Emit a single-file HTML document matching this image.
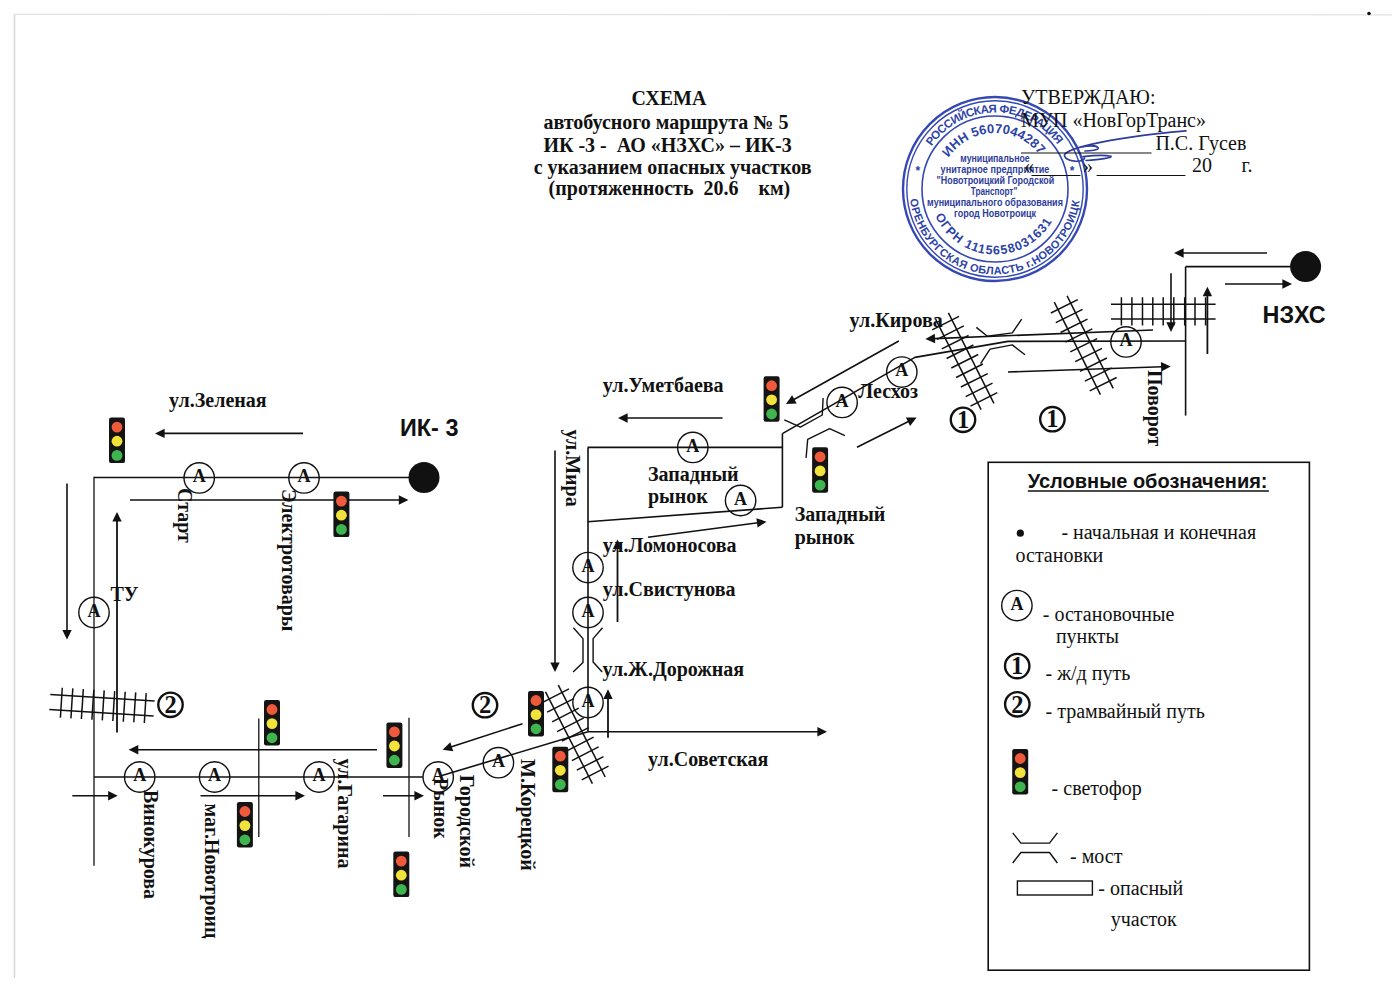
<!DOCTYPE html>
<html><head><meta charset="utf-8"><style>
html,body{margin:0;padding:0;background:#fff;}
body{width:1400px;height:989px;overflow:hidden;position:relative;}
svg{position:absolute;left:0;top:0;}
text{white-space:pre;}
.b{font-family:"Liberation Serif",serif;font-weight:bold;font-size:20px;fill:#111;}
.r{font-family:"Liberation Serif",serif;font-size:20px;fill:#111;}
.sb{font-family:"Liberation Sans",sans-serif;font-weight:bold;font-size:23.4px;fill:#111;}
.lt{font-family:"Liberation Sans",sans-serif;font-weight:bold;font-size:20px;fill:#111;}
.sa{font-family:"Liberation Serif",serif;font-weight:bold;font-size:18px;fill:#111;}
.cn{font-family:"Liberation Serif",serif;font-weight:bold;font-size:24.5px;fill:#111;}
.st{font-family:"Liberation Sans",sans-serif;font-weight:bold;fill:#2c43a8;}
</style></head><body>
<svg width="1400" height="989" viewBox="0 0 1400 989">
<g>
<defs>
<path id="p1" d="M931.58,146.22 A76.5,76.5 0 0 1 1058.42,146.22" fill="none"/>
<path id="p2" d="M910.14,199.42 A85.5,85.5 0 0 0 1079.86,199.42" fill="none"/>
<path id="p3" d="M948.57,157.69 A56,56 0 0 1 1040.30,156.08" fill="none"/>
<path id="p4" d="M935.16,215.64 A65.5,65.5 0 0 0 1052.83,219.75" fill="none"/>
</defs>
<circle cx="995" cy="189" r="92" fill="none" stroke="#3548b4" stroke-width="2.4"/>
<circle cx="995" cy="189" r="88.2" fill="none" stroke="#3548b4" stroke-width="1.4"/>
<circle cx="995" cy="189" r="73" fill="none" stroke="#3548b4" stroke-width="1.6"/>
<text class="st" style="font-size:11.5px;font-weight:bold"><textPath href="#p1" textLength="147.5" lengthAdjust="spacing">РОССИЙСКАЯ ФЕДЕРАЦИЯ</textPath></text>
<text class="st" style="font-size:11px;font-weight:bold"><textPath href="#p2" textLength="245.7" lengthAdjust="spacing">ОРЕНБУРГСКАЯ ОБЛАСТЬ г.НОВОТРОИЦК</textPath></text>
<text class="st" style="font-size:13px;font-weight:bold"><textPath href="#p3" textLength="105.5" lengthAdjust="spacing">ИНН 5607044287</textPath></text>
<text class="st" style="font-size:12.5px;font-weight:bold"><textPath href="#p4" textLength="144.3" lengthAdjust="spacing">ОГРН 1115658031631</textPath></text>
<text class="st" x="960.3" y="162.1" style="font-size:10.5px;fill:#2e3c9c" textLength="69.4" lengthAdjust="spacingAndGlyphs">муниципальное</text>
<text class="st" x="940.6" y="173.1" style="font-size:10.5px;fill:#2e3c9c" textLength="108.8" lengthAdjust="spacingAndGlyphs">унитарное предприятие</text>
<text class="st" x="936.5" y="184.1" style="font-size:10.5px;fill:#2e3c9c" textLength="117.7" lengthAdjust="spacingAndGlyphs">"Новотроицкий Городской</text>
<text class="st" x="970.7" y="194.9" style="font-size:10.5px;fill:#2e3c9c" textLength="46.6" lengthAdjust="spacingAndGlyphs">Транспорт"</text>
<text class="st" x="927.1" y="206.3" style="font-size:10.5px;fill:#2e3c9c" textLength="135.8" lengthAdjust="spacingAndGlyphs">муниципального образования</text>
<text class="st" x="954.1" y="216.6" style="font-size:10.5px;fill:#2e3c9c" textLength="81.9" lengthAdjust="spacingAndGlyphs">город Новотроицк</text>
<text class="st" x="917.8" y="175" text-anchor="middle" style="font-size:12px">*</text>
<text class="st" x="1072" y="175" text-anchor="middle" style="font-size:12px">*</text>
<path d="M1186,130.8 C1150,134 1110,140 1091,144.4 C1080,147 1070,150 1066,153 C1062,156 1066,160 1075,161.2 C1082,161.5 1086,159 1084,157 M1080.6,147.1 C1088,145.5 1097,145 1098.2,148 C1099,150 1090,151 1085,151 M1083,156.6 C1092,155.5 1104,154.5 1111,156.3 C1112,158 1100,159.5 1086,160.5" fill="none" stroke="#2e3c9c" stroke-width="1.7" stroke-linecap="round"/>
</g>
<line x1="14.5" y1="14.3" x2="1392.0" y2="14.8" stroke="#e0e0e0" stroke-width="1.2"/>
<line x1="14.5" y1="14.3" x2="14.5" y2="978.0" stroke="#d8d8d8" stroke-width="1.5"/>
<circle cx="1369" cy="13.5" r="1.8" fill="#111"/>
<text x="631.4" y="105.1" class="b">СХЕМА</text>
<text x="543.4" y="128.5" class="b">автобусного маршрута № 5</text>
<text x="543.4" y="151.7" class="b">ИК -3 -  АО «НЗХС» – ИК-3</text>
<text x="533.7" y="173.7" class="b">с указанием опасных участков</text>
<text x="548.6" y="195.1" class="b">(протяженность  20.6    км)</text>
<rect x="109.0" y="417.6" width="16" height="45.5" rx="2.2" fill="#141414"/>
<circle cx="117.0" cy="427.1" r="5.4" fill="#ef5a3c"/>
<circle cx="117.0" cy="441.2" r="5.4" fill="#f2e23c"/>
<circle cx="117.0" cy="455.4" r="5.4" fill="#3fb54f"/>
<line x1="303.0" y1="433.4" x2="163.6" y2="433.4" stroke="#111" stroke-width="1.6"/>
<polygon points="155.0,433.4 164.6,428.7 164.6,438.1" fill="#111"/>
<text x="169.0" y="406.8" class="b">ул.Зеленая</text>
<text x="400.0" y="436.0" class="sb">ИК- 3</text>
<line x1="94.0" y1="477.5" x2="424.0" y2="477.5" stroke="#111" stroke-width="1.6"/>
<circle cx="424" cy="477.5" r="15.5" fill="#111"/>
<line x1="94.0" y1="476.7" x2="94.0" y2="865.7" stroke="#111" stroke-width="1.3"/>
<circle cx="199.2" cy="477.9" r="15.2" fill="none" stroke="#111" stroke-width="1.4"/>
<text x="199.2" y="482.2" class="sa" text-anchor="middle">A</text>
<circle cx="304.0" cy="477.9" r="15.2" fill="none" stroke="#111" stroke-width="1.4"/>
<text x="304.0" y="482.2" class="sa" text-anchor="middle">A</text>
<line x1="130.0" y1="500.0" x2="399.8" y2="500.0" stroke="#111" stroke-width="1.6"/>
<polygon points="408.4,500.0 398.8,504.7 398.8,495.3" fill="#111"/>
<rect x="333.4" y="491.6" width="16" height="45.5" rx="2.2" fill="#141414"/>
<circle cx="341.4" cy="501.1" r="5.4" fill="#ef5a3c"/>
<circle cx="341.4" cy="515.2" r="5.4" fill="#f2e23c"/>
<circle cx="341.4" cy="529.4" r="5.4" fill="#3fb54f"/>
<text transform="translate(177.5,488.0) rotate(90)" class="b">Старт</text>
<text transform="translate(281.5,489.0) rotate(90)" class="b">Электротовары</text>
<line x1="67.0" y1="483.5" x2="67.0" y2="630.9" stroke="#111" stroke-width="1.6"/>
<polygon points="67.0,639.5 62.3,629.9 71.7,629.9" fill="#111"/>
<line x1="117.0" y1="732.5" x2="117.0" y2="520.6" stroke="#111" stroke-width="1.8"/>
<polygon points="117.0,512.0 121.7,521.6 112.3,521.6" fill="#111"/>
<circle cx="94.0" cy="612.5" r="15.2" fill="none" stroke="#111" stroke-width="1.4"/>
<text x="94.0" y="616.8" class="sa" text-anchor="middle">A</text>
<text x="110.5" y="601.3" class="b">ТУ</text>
<line x1="50.3" y1="694.5" x2="154.6" y2="701.1" stroke="#111" stroke-width="1.5"/>
<line x1="49.3" y1="709.5" x2="153.6" y2="716.1" stroke="#111" stroke-width="1.5"/>
<line x1="62.3" y1="687.8" x2="60.4" y2="717.7" stroke="#111" stroke-width="1.5"/>
<line x1="72.8" y1="688.4" x2="70.9" y2="718.4" stroke="#111" stroke-width="1.5"/>
<line x1="83.3" y1="689.1" x2="81.4" y2="719.0" stroke="#111" stroke-width="1.5"/>
<line x1="93.8" y1="689.8" x2="91.9" y2="719.7" stroke="#111" stroke-width="1.5"/>
<line x1="104.2" y1="690.4" x2="102.3" y2="720.4" stroke="#111" stroke-width="1.5"/>
<line x1="114.7" y1="691.1" x2="112.8" y2="721.0" stroke="#111" stroke-width="1.5"/>
<line x1="125.2" y1="691.7" x2="123.3" y2="721.7" stroke="#111" stroke-width="1.5"/>
<line x1="135.7" y1="692.4" x2="133.8" y2="722.3" stroke="#111" stroke-width="1.5"/>
<line x1="146.2" y1="693.1" x2="144.3" y2="723.0" stroke="#111" stroke-width="1.5"/>
<circle cx="170.5" cy="704.8" r="12.2" fill="none" stroke="#111" stroke-width="2.4"/>
<text x="170.5" y="713.0" class="cn" text-anchor="middle">2</text>
<line x1="94.0" y1="777.0" x2="423.0" y2="777.0" stroke="#111" stroke-width="1.6"/>
<line x1="377.0" y1="749.7" x2="137.3" y2="749.7" stroke="#111" stroke-width="1.6"/>
<polygon points="128.7,749.7 138.3,745.0 138.3,754.4" fill="#111"/>
<circle cx="139.7" cy="777.0" r="15.2" fill="none" stroke="#111" stroke-width="1.4"/>
<text x="139.7" y="781.3" class="sa" text-anchor="middle">A</text>
<circle cx="214.6" cy="777.0" r="15.2" fill="none" stroke="#111" stroke-width="1.4"/>
<text x="214.6" y="781.3" class="sa" text-anchor="middle">A</text>
<circle cx="319.0" cy="777.0" r="15.2" fill="none" stroke="#111" stroke-width="1.4"/>
<text x="319.0" y="781.3" class="sa" text-anchor="middle">A</text>
<circle cx="438.2" cy="777.0" r="15.2" fill="none" stroke="#111" stroke-width="1.4"/>
<text x="438.2" y="781.3" class="sa" text-anchor="middle">A</text>
<line x1="72.3" y1="795.8" x2="109.1" y2="795.8" stroke="#111" stroke-width="1.6"/>
<polygon points="117.7,795.8 108.1,800.5 108.1,791.1" fill="#111"/>
<line x1="200.5" y1="795.8" x2="296.4" y2="795.8" stroke="#111" stroke-width="1.6"/>
<polygon points="305.0,795.8 295.4,800.5 295.4,791.1" fill="#111"/>
<line x1="383.0" y1="795.8" x2="415.4" y2="795.8" stroke="#111" stroke-width="1.6"/>
<polygon points="424.0,795.8 414.4,800.5 414.4,791.1" fill="#111"/>
<line x1="258.8" y1="718.4" x2="258.8" y2="836.9" stroke="#111" stroke-width="1.3"/>
<line x1="409.0" y1="717.7" x2="409.0" y2="836.9" stroke="#111" stroke-width="1.3"/>
<rect x="264.0" y="700.0" width="16" height="45.5" rx="2.2" fill="#141414"/>
<circle cx="272.0" cy="709.5" r="5.4" fill="#ef5a3c"/>
<circle cx="272.0" cy="723.6" r="5.4" fill="#f2e23c"/>
<circle cx="272.0" cy="737.8" r="5.4" fill="#3fb54f"/>
<rect x="236.9" y="802.0" width="16" height="45.5" rx="2.2" fill="#141414"/>
<circle cx="244.9" cy="811.5" r="5.4" fill="#ef5a3c"/>
<circle cx="244.9" cy="825.6" r="5.4" fill="#f2e23c"/>
<circle cx="244.9" cy="839.8" r="5.4" fill="#3fb54f"/>
<rect x="386.4" y="722.4" width="16" height="45.5" rx="2.2" fill="#141414"/>
<circle cx="394.4" cy="731.9" r="5.4" fill="#ef5a3c"/>
<circle cx="394.4" cy="746.0" r="5.4" fill="#f2e23c"/>
<circle cx="394.4" cy="760.2" r="5.4" fill="#3fb54f"/>
<rect x="393.3" y="851.6" width="16" height="45.5" rx="2.2" fill="#141414"/>
<circle cx="401.3" cy="861.1" r="5.4" fill="#ef5a3c"/>
<circle cx="401.3" cy="875.2" r="5.4" fill="#f2e23c"/>
<circle cx="401.3" cy="889.4" r="5.4" fill="#3fb54f"/>
<text transform="translate(143.5,790.0) rotate(90)" class="b">Винокурова</text>
<text transform="translate(204.5,803.6) rotate(90)" class="b">маг.Новотроиц</text>
<text transform="translate(338.0,758.5) rotate(90)" class="b">ул.Гагарина</text>
<text transform="translate(434.0,778.0) rotate(90)" class="b">Рынок</text>
<text transform="translate(459.5,774.8) rotate(90)" class="b">Городской</text>
<text transform="translate(520.5,759.0) rotate(90)" class="b">М.Корецкой</text>
<line x1="442.0" y1="775.5" x2="588.0" y2="731.8" stroke="#111" stroke-width="1.6"/>
<line x1="522.5" y1="723.7" x2="450.8" y2="747.0" stroke="#111" stroke-width="1.6"/>
<polygon points="442.6,749.7 450.3,742.3 453.2,751.2" fill="#111"/>
<circle cx="498.4" cy="762.7" r="15.2" fill="none" stroke="#111" stroke-width="1.4"/>
<text x="498.4" y="767.0" class="sa" text-anchor="middle">A</text>
<circle cx="485.0" cy="705.2" r="12.2" fill="none" stroke="#111" stroke-width="2.4"/>
<text x="485.0" y="713.4" class="cn" text-anchor="middle">2</text>
<line x1="558.3" y1="685.2" x2="605.2" y2="777.0" stroke="#111" stroke-width="1.5"/>
<line x1="545.5" y1="691.8" x2="592.4" y2="783.6" stroke="#111" stroke-width="1.5"/>
<line x1="569.0" y1="688.9" x2="542.2" y2="702.6" stroke="#111" stroke-width="1.5"/>
<line x1="573.9" y1="698.6" x2="547.2" y2="712.2" stroke="#111" stroke-width="1.5"/>
<line x1="578.8" y1="708.2" x2="552.1" y2="721.9" stroke="#111" stroke-width="1.5"/>
<line x1="583.8" y1="717.9" x2="557.1" y2="731.6" stroke="#111" stroke-width="1.5"/>
<line x1="588.7" y1="727.6" x2="562.0" y2="741.2" stroke="#111" stroke-width="1.5"/>
<line x1="593.6" y1="737.2" x2="566.9" y2="750.9" stroke="#111" stroke-width="1.5"/>
<line x1="598.6" y1="746.9" x2="571.9" y2="760.6" stroke="#111" stroke-width="1.5"/>
<line x1="603.5" y1="756.6" x2="576.8" y2="770.2" stroke="#111" stroke-width="1.5"/>
<line x1="608.5" y1="766.2" x2="581.7" y2="779.9" stroke="#111" stroke-width="1.5"/>
<rect x="528.0" y="691.0" width="16" height="45.5" rx="2.2" fill="#141414"/>
<circle cx="536.0" cy="700.5" r="5.4" fill="#ef5a3c"/>
<circle cx="536.0" cy="714.6" r="5.4" fill="#f2e23c"/>
<circle cx="536.0" cy="728.8" r="5.4" fill="#3fb54f"/>
<rect x="552.3" y="746.7" width="16" height="45.5" rx="2.2" fill="#141414"/>
<circle cx="560.3" cy="756.2" r="5.4" fill="#ef5a3c"/>
<circle cx="560.3" cy="770.3" r="5.4" fill="#f2e23c"/>
<circle cx="560.3" cy="784.5" r="5.4" fill="#3fb54f"/>
<line x1="588.0" y1="447.4" x2="588.0" y2="731.8" stroke="#111" stroke-width="1.6"/>
<circle cx="588.0" cy="702.5" r="15.2" fill="none" stroke="#111" stroke-width="1.4"/>
<text x="588.0" y="706.8" class="sa" text-anchor="middle">A</text>
<line x1="608.0" y1="737.8" x2="608.0" y2="697.9" stroke="#111" stroke-width="1.8"/>
<polygon points="608.0,689.3 612.7,698.9 603.3,698.9" fill="#111"/>
<line x1="588.0" y1="731.8" x2="818.4" y2="731.8" stroke="#111" stroke-width="1.6"/>
<polygon points="827.0,731.8 817.4,736.5 817.4,727.1" fill="#111"/>
<text x="648.0" y="766.2" class="b">ул.Советская</text>
<text x="602.4" y="675.8" class="b">ул.Ж.Дорожная</text>
<line x1="555.0" y1="450.6" x2="555.0" y2="663.4" stroke="#111" stroke-width="1.6"/>
<polygon points="555.0,672.0 550.3,662.4 559.7,662.4" fill="#111"/>
<polyline points="573.4,627.7 583.0,638.6 583.0,662.5 573.1,672.0" fill="none" stroke="#111" stroke-width="1.4" stroke-linejoin="round"/>
<polyline points="602.5,627.7 593.1,638.6 593.1,662.0 602.2,672.0" fill="none" stroke="#111" stroke-width="1.4" stroke-linejoin="round"/>
<circle cx="588.0" cy="567.6" r="15.2" fill="none" stroke="#111" stroke-width="1.4"/>
<text x="588.0" y="571.9" class="sa" text-anchor="middle">A</text>
<circle cx="588.0" cy="612.5" r="15.2" fill="none" stroke="#111" stroke-width="1.4"/>
<text x="588.0" y="616.8" class="sa" text-anchor="middle">A</text>
<line x1="617.5" y1="622.0" x2="617.5" y2="548.1" stroke="#111" stroke-width="1.8"/>
<polygon points="617.5,539.5 622.2,549.1 612.8,549.1" fill="#111"/>
<text x="602.8" y="596.4" class="b">ул.Свистунова</text>
<text x="602.8" y="551.8" class="b">ул.Ломоносова</text>
<line x1="648.0" y1="537.3" x2="758.0" y2="522.8" stroke="#111" stroke-width="1.6"/>
<polygon points="766.5,521.7 757.6,527.6 756.4,518.3" fill="#111"/>
<line x1="587.6" y1="447.4" x2="782.4" y2="447.4" stroke="#111" stroke-width="1.6"/>
<line x1="587.6" y1="521.8" x2="782.4" y2="507.2" stroke="#111" stroke-width="1.6"/>
<line x1="782.4" y1="433.6" x2="782.4" y2="507.2" stroke="#111" stroke-width="1.6"/>
<circle cx="692.8" cy="447.4" r="15.2" fill="none" stroke="#111" stroke-width="1.4"/>
<text x="692.8" y="451.7" class="sa" text-anchor="middle">A</text>
<circle cx="740.6" cy="500.5" r="15.2" fill="none" stroke="#111" stroke-width="1.4"/>
<text x="740.6" y="504.8" class="sa" text-anchor="middle">A</text>
<text x="648.0" y="480.5" class="b">Западный</text>
<text x="648.0" y="503.2" class="b">рынок</text>
<text transform="translate(566.0,429.5) rotate(90)" class="b">ул.Мира</text>
<text x="602.8" y="391.5" class="b">ул.Уметбаева</text>
<line x1="722.6" y1="418.0" x2="626.6" y2="418.0" stroke="#111" stroke-width="1.6"/>
<polygon points="618.0,418.0 627.6,413.3 627.6,422.7" fill="#111"/>
<rect x="763.6" y="376.2" width="16" height="45.5" rx="2.2" fill="#141414"/>
<circle cx="771.6" cy="385.7" r="5.4" fill="#ef5a3c"/>
<circle cx="771.6" cy="399.8" r="5.4" fill="#f2e23c"/>
<circle cx="771.6" cy="414.0" r="5.4" fill="#3fb54f"/>
<line x1="898.8" y1="341.0" x2="793.5" y2="399.8" stroke="#111" stroke-width="1.6"/>
<polygon points="786.0,404.0 792.1,395.2 796.7,403.4" fill="#111"/>
<polyline points="782.4,433.6 914.9,357.4 1008.0,341.4 1185.6,341.0" fill="none" stroke="#111" stroke-width="1.6" stroke-linejoin="round"/>
<circle cx="842.1" cy="402.4" r="15.2" fill="none" stroke="#111" stroke-width="1.4"/>
<text x="842.1" y="406.7" class="sa" text-anchor="middle">A</text>
<circle cx="901.8" cy="372.1" r="15.2" fill="none" stroke="#111" stroke-width="1.4"/>
<text x="901.8" y="376.4" class="sa" text-anchor="middle">A</text>
<text x="858.3" y="398.2" class="b">Лесхоз</text>
<polyline points="784.3,419.9 800.4,427.1 822.3,415.0 823.1,398.0" fill="none" stroke="#111" stroke-width="1.4" stroke-linejoin="round"/>
<polyline points="806.1,457.9 807.7,439.3 829.6,428.7 844.9,435.7" fill="none" stroke="#111" stroke-width="1.4" stroke-linejoin="round"/>
<rect x="812.1" y="447.3" width="16" height="45.5" rx="2.2" fill="#141414"/>
<circle cx="820.1" cy="456.8" r="5.4" fill="#ef5a3c"/>
<circle cx="820.1" cy="470.9" r="5.4" fill="#f2e23c"/>
<circle cx="820.1" cy="485.1" r="5.4" fill="#3fb54f"/>
<line x1="857.0" y1="447.3" x2="908.9" y2="421.3" stroke="#111" stroke-width="1.6"/>
<polygon points="916.6,417.4 910.1,425.9 905.9,417.5" fill="#111"/>
<text x="794.7" y="520.8" class="b">Западный</text>
<text x="794.7" y="543.8" class="b">рынок</text>
<text x="849.6" y="326.8" class="b">ул.Кирова</text>
<line x1="1153.0" y1="330.0" x2="934.0" y2="338.6" stroke="#111" stroke-width="1.6"/>
<polygon points="925.4,338.9 934.8,333.8 935.2,343.2" fill="#111"/>
<polyline points="976.3,327.4 987.4,336.3 1012.3,332.9 1021.7,319.1" fill="none" stroke="#111" stroke-width="1.4" stroke-linejoin="round"/>
<polyline points="980.6,363.7 990.0,349.1 1012.3,344.9 1025.0,354.8" fill="none" stroke="#111" stroke-width="1.4" stroke-linejoin="round"/>
<line x1="948.4" y1="312.8" x2="993.9" y2="403.3" stroke="#111" stroke-width="1.5"/>
<line x1="935.6" y1="319.2" x2="981.1" y2="409.7" stroke="#111" stroke-width="1.5"/>
<line x1="959.0" y1="316.4" x2="932.2" y2="329.9" stroke="#111" stroke-width="1.5"/>
<line x1="963.8" y1="325.9" x2="937.0" y2="339.4" stroke="#111" stroke-width="1.5"/>
<line x1="968.6" y1="335.5" x2="941.8" y2="348.9" stroke="#111" stroke-width="1.5"/>
<line x1="973.4" y1="345.0" x2="946.6" y2="358.5" stroke="#111" stroke-width="1.5"/>
<line x1="978.2" y1="354.5" x2="951.3" y2="368.0" stroke="#111" stroke-width="1.5"/>
<line x1="982.9" y1="364.0" x2="956.1" y2="377.5" stroke="#111" stroke-width="1.5"/>
<line x1="987.7" y1="373.6" x2="960.9" y2="387.0" stroke="#111" stroke-width="1.5"/>
<line x1="992.5" y1="383.1" x2="965.7" y2="396.6" stroke="#111" stroke-width="1.5"/>
<line x1="997.3" y1="392.6" x2="970.5" y2="406.1" stroke="#111" stroke-width="1.5"/>
<line x1="1067.1" y1="295.8" x2="1113.2" y2="388.3" stroke="#111" stroke-width="1.5"/>
<line x1="1054.3" y1="302.2" x2="1100.4" y2="394.7" stroke="#111" stroke-width="1.5"/>
<line x1="1077.8" y1="299.6" x2="1050.9" y2="313.0" stroke="#111" stroke-width="1.5"/>
<line x1="1082.6" y1="309.3" x2="1055.8" y2="322.7" stroke="#111" stroke-width="1.5"/>
<line x1="1087.5" y1="319.1" x2="1060.6" y2="332.5" stroke="#111" stroke-width="1.5"/>
<line x1="1092.3" y1="328.8" x2="1065.5" y2="342.2" stroke="#111" stroke-width="1.5"/>
<line x1="1097.2" y1="338.6" x2="1070.3" y2="351.9" stroke="#111" stroke-width="1.5"/>
<line x1="1102.0" y1="348.3" x2="1075.2" y2="361.7" stroke="#111" stroke-width="1.5"/>
<line x1="1106.9" y1="358.0" x2="1080.0" y2="371.4" stroke="#111" stroke-width="1.5"/>
<line x1="1111.7" y1="367.8" x2="1084.9" y2="381.2" stroke="#111" stroke-width="1.5"/>
<line x1="1116.6" y1="377.5" x2="1089.7" y2="390.9" stroke="#111" stroke-width="1.5"/>
<circle cx="963.0" cy="419.8" r="12.2" fill="none" stroke="#111" stroke-width="2.4"/>
<text x="963.0" y="428.0" class="cn" text-anchor="middle">1</text>
<circle cx="1052.4" cy="419.2" r="12.2" fill="none" stroke="#111" stroke-width="2.4"/>
<text x="1052.4" y="427.4" class="cn" text-anchor="middle">1</text>
<line x1="1008.0" y1="372.0" x2="1162.1" y2="366.8" stroke="#111" stroke-width="1.6"/>
<polygon points="1170.7,366.5 1161.3,371.5 1160.9,362.1" fill="#111"/>
<circle cx="1126.0" cy="341.9" r="15.2" fill="none" stroke="#111" stroke-width="1.4"/>
<text x="1126.0" y="346.2" class="sa" text-anchor="middle">A</text>
<line x1="1185.6" y1="266.6" x2="1185.6" y2="415.6" stroke="#111" stroke-width="1.6"/>
<line x1="1185.6" y1="266.6" x2="1300.0" y2="266.6" stroke="#111" stroke-width="1.6"/>
<circle cx="1305.6" cy="266.6" r="15.5" fill="#111"/>
<line x1="1267.0" y1="253.0" x2="1182.6" y2="253.0" stroke="#111" stroke-width="1.6"/>
<polygon points="1174.0,253.0 1183.6,248.3 1183.6,257.7" fill="#111"/>
<line x1="1225.0" y1="284.0" x2="1283.4" y2="284.0" stroke="#111" stroke-width="1.6"/>
<polygon points="1292.0,284.0 1282.4,288.7 1282.4,279.3" fill="#111"/>
<text x="1262.5" y="323.0" class="sb">НЗХС</text>
<line x1="1111.0" y1="304.2" x2="1215.6" y2="304.2" stroke="#111" stroke-width="1.5"/>
<line x1="1111.0" y1="319.1" x2="1215.6" y2="319.1" stroke="#111" stroke-width="1.5"/>
<line x1="1121.4" y1="297.3" x2="1121.4" y2="325.5" stroke="#111" stroke-width="1.5"/>
<line x1="1131.9" y1="297.3" x2="1131.9" y2="325.5" stroke="#111" stroke-width="1.5"/>
<line x1="1142.5" y1="297.3" x2="1142.5" y2="325.5" stroke="#111" stroke-width="1.5"/>
<line x1="1152.8" y1="297.3" x2="1152.8" y2="325.5" stroke="#111" stroke-width="1.5"/>
<line x1="1163.2" y1="297.3" x2="1163.2" y2="325.5" stroke="#111" stroke-width="1.5"/>
<line x1="1173.8" y1="297.3" x2="1173.8" y2="325.5" stroke="#111" stroke-width="1.5"/>
<line x1="1184.7" y1="297.3" x2="1184.7" y2="325.5" stroke="#111" stroke-width="1.5"/>
<line x1="1195.0" y1="297.3" x2="1195.0" y2="325.5" stroke="#111" stroke-width="1.5"/>
<line x1="1205.6" y1="297.3" x2="1205.6" y2="325.5" stroke="#111" stroke-width="1.5"/>
<line x1="1171.0" y1="273.3" x2="1171.0" y2="323.3" stroke="#111" stroke-width="1.6"/>
<polygon points="1171.0,331.9 1166.3,322.3 1175.7,322.3" fill="#111"/>
<line x1="1207.4" y1="354.0" x2="1207.4" y2="295.3" stroke="#111" stroke-width="1.8"/>
<polygon points="1207.4,286.7 1212.1,296.3 1202.7,296.3" fill="#111"/>
<text transform="translate(1147.9,370.0) rotate(90)" class="b">Поворот</text>
<rect x="988.2" y="462.3" width="321.2" height="507.9" fill="none" stroke="#111" stroke-width="1.6"/>
<text x="1027.8" y="487.5" class="lt">Условные обозначения:</text>
<line x1="1027.8" y1="491.0" x2="1268.9" y2="491.0" stroke="#111" stroke-width="1.6"/>
<circle cx="1020.3" cy="533.2" r="3.6" fill="#111"/>
<text x="1061.4" y="538.7" class="r">- начальная и конечная</text>
<text x="1015.5" y="562.0" class="r">остановки</text>
<circle cx="1016.9" cy="605.6" r="15.2" fill="none" stroke="#111" stroke-width="1.4"/>
<text x="1016.9" y="609.9" class="sa" text-anchor="middle">A</text>
<text x="1042.8" y="620.7" class="r">- остановочные</text>
<text x="1055.9" y="643.3" class="r">пункты</text>
<circle cx="1017.2" cy="666.1" r="12.2" fill="none" stroke="#111" stroke-width="2.4"/>
<text x="1017.2" y="674.3" class="cn" text-anchor="middle">1</text>
<text x="1045.5" y="679.5" class="r">- ж/д путь</text>
<circle cx="1017.3" cy="704.3" r="12.2" fill="none" stroke="#111" stroke-width="2.4"/>
<text x="1017.3" y="712.5" class="cn" text-anchor="middle">2</text>
<text x="1045.5" y="717.5" class="r">- трамвайный путь</text>
<rect x="1012.2" y="749.0" width="16" height="45.5" rx="2.2" fill="#141414"/>
<circle cx="1020.2" cy="758.5" r="5.4" fill="#ef5a3c"/>
<circle cx="1020.2" cy="772.6" r="5.4" fill="#f2e23c"/>
<circle cx="1020.2" cy="786.8" r="5.4" fill="#3fb54f"/>
<text x="1051.6" y="795.0" class="r">- светофор</text>
<polyline points="1012.7,832.9 1020.9,843.1 1049.5,843.1 1057.4,832.9" fill="none" stroke="#111" stroke-width="1.4" stroke-linejoin="round"/>
<polyline points="1012.7,863.0 1020.9,852.5 1049.5,852.5 1057.4,863.0" fill="none" stroke="#111" stroke-width="1.4" stroke-linejoin="round"/>
<text x="1070.0" y="863.0" class="r">- мост</text>
<rect x="1017.4" y="881" width="75" height="14" fill="none" stroke="#111" stroke-width="1.4"/>
<text x="1098.3" y="895.0" class="r">- опасный</text>
<text x="1110.8" y="926.3" class="r">участок</text>
<text x="1021.0" y="104.4" class="r">УТВЕРЖДАЮ:</text>
<text x="1021.0" y="126.6" class="r">МУП «НовГорТранс»</text>
<line x1="1021.0" y1="153.0" x2="1151.5" y2="153.0" stroke="#111" stroke-width="1.2"/>
<text x="1155.4" y="150.2" class="r">П.С. Гусев</text>
<text x="1024.0" y="172.5" class="r">«</text>
<line x1="1031.5" y1="175.5" x2="1080.4" y2="175.5" stroke="#111" stroke-width="1.2"/>
<text x="1083.0" y="172.5" class="r">»</text>
<line x1="1096.6" y1="175.5" x2="1185.4" y2="175.5" stroke="#111" stroke-width="1.2"/>
<text x="1192.0" y="171.6" class="r">20</text>
<text x="1241.5" y="171.6" class="r">г.</text>
</svg>
</body></html>
